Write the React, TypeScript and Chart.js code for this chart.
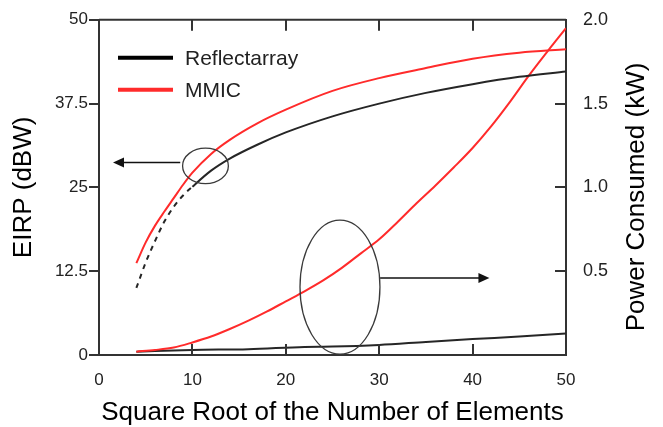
import React, { useEffect, useRef } from "react";
import { Chart, registerables } from "chart.js";

Chart.register(...registerables);

// ---- data ----
const X_EIRP = [4, 5, 6, 7, 8, 9, 10, 12, 14, 17, 20, 25, 30, 35, 40, 45, 50];
const MMIC_EIRP = [13.7, 16.8, 19.3, 21.4, 23.4, 25.4, 27.2, 30.0, 32.1, 34.6, 36.6, 39.4, 41.3, 42.8, 44.2, 45.1, 45.6];
const REFLECT_EIRP = [10.0, 13.8, 17.0, 19.9, 22.1, 23.8, 25.1, 27.5, 29.3, 31.4, 33.2, 35.6, 37.5, 39.1, 40.4, 41.5, 42.3];

const X_MMIC_POWER = [4, 6, 8, 10, 12, 14, 16, 18, 20, 22, 24, 26, 28, 30, 32, 34, 36, 38, 40, 42, 44, 46, 48, 50];
const MMIC_POWER = [0.02, 0.03, 0.045, 0.075, 0.11, 0.155, 0.205, 0.26, 0.32, 0.38, 0.445, 0.52, 0.605, 0.69, 0.795, 0.905, 1.01, 1.12, 1.235, 1.365, 1.51, 1.665, 1.81, 1.95];

const X_REFLECT_POWER = [4, 10, 16, 22, 25, 30, 35, 40, 45, 50];
const REFLECT_POWER = [0.02, 0.03, 0.035, 0.048, 0.05, 0.06, 0.078, 0.095, 0.11, 0.128];

const X_TICKS = [0, 10, 20, 30, 40, 50];
const Y_TICKS = [0, 12.5, 25, 37.5, 50];
const Y2_TICKS = [0.5, 1.0, 1.5, 2.0];

const SERIES_NAMES = ["Reflectarray", "MMIC"];
const DASHED_UNTIL_X = 10; // reflectarray EIRP drawn dashed up to this x

// annotation marks in data units
const ELLIPSE_EIRP = [11.4, 28.2, 2.45, 2.65]; // cx, cy (dBW), rx, ry
const ARROW_EIRP = [8.7, 1.5, 28.7]; // from x, to x, at y (dBW)
const ELLIPSE_POWER = [25.8, 0.405, 4.28, 0.4]; // cx, cy (kW), rx, ry
const ARROW_POWER = [30.1, 41.8, 0.46]; // from x, to x, at y (kW)

const BLACK = "#262626";
const RED = "#ff2b2b";
const AXIS = "#333333";
const FONT = "'Liberation Sans', Arial, sans-serif";

const toXY = (xs: number[], ys: number[]) => xs.map((x, i) => ({ x, y: ys[i] }));

const overlayPlugin = {
  id: "overlay",
  afterDraw(chart: any) {
    const { ctx, chartArea, scales } = chart;
    const x = scales.x;
    const y = scales.y;
    const y2 = scales.y2;
    ctx.save();
    // top border
    ctx.strokeStyle = AXIS;
    ctx.lineWidth = 2;
    ctx.beginPath();
    ctx.moveTo(chartArea.left, chartArea.top);
    ctx.lineTo(chartArea.right, chartArea.top);
    ctx.stroke();
    // inward ticks top / bottom
    ctx.beginPath();
    X_TICKS.filter((v) => v > 0 && v < 50).forEach((v) => {
      const px = Math.round(x.getPixelForValue(v));
      ctx.moveTo(px, chartArea.bottom);
      ctx.lineTo(px, chartArea.bottom - 11);
      ctx.moveTo(px, chartArea.top);
      ctx.lineTo(px, chartArea.top + 11);
    });
    // inward ticks right
    Y2_TICKS.filter((v) => v < 2).forEach((v) => {
      const py = Math.round(y2.getPixelForValue(v));
      ctx.moveTo(chartArea.right, py);
      ctx.lineTo(chartArea.right - 11, py);
    });
    ctx.stroke();

    // ellipses
    const drawEllipse = (e: number[], sc: any) => {
      const cx = x.getPixelForValue(e[0]);
      const cy = sc.getPixelForValue(e[1]);
      const rx = x.getPixelForValue(e[0] + e[2]) - cx;
      const ry = cy - sc.getPixelForValue(e[1] + e[3]);
      ctx.beginPath();
      ctx.ellipse(cx, cy, rx, ry, 0, 0, Math.PI * 2);
      ctx.strokeStyle = "#3a3a3a";
      ctx.lineWidth = 1.3;
      ctx.stroke();
    };
    drawEllipse(ELLIPSE_EIRP, y);
    drawEllipse(ELLIPSE_POWER, y2);

    const drawArrow = (a: number[], sc: any) => {
      const x0 = x.getPixelForValue(a[0]);
      const x1 = x.getPixelForValue(a[1]);
      const py = sc.getPixelForValue(a[2]);
      const dir = Math.sign(x1 - x0);
      ctx.strokeStyle = "#111";
      ctx.fillStyle = "#111";
      ctx.lineWidth = 1.5;
      ctx.beginPath();
      ctx.moveTo(x0, py);
      ctx.lineTo(x1 - dir * 8, py);
      ctx.stroke();
      ctx.beginPath();
      ctx.moveTo(x1, py);
      ctx.lineTo(x1 - dir * 11, py - 5);
      ctx.lineTo(x1 - dir * 11, py + 5);
      ctx.closePath();
      ctx.fill();
    };
    drawArrow(ARROW_EIRP, y);
    drawArrow(ARROW_POWER, y2);

    // legend
    ctx.font = `21px ${FONT}`;
    ctx.textBaseline = "middle";
    ctx.textAlign = "left";
    SERIES_NAMES.forEach((name, i) => {
      const ly = chartArea.top + 38 + i * 32;
      ctx.strokeStyle = i === 0 ? "#000" : RED;
      ctx.lineWidth = 4;
      ctx.beginPath();
      ctx.moveTo(chartArea.left + 19, ly);
      ctx.lineTo(chartArea.left + 74, ly);
      ctx.stroke();
      ctx.fillStyle = "#222";
      ctx.fillText(name, chartArea.left + 86, ly + 1);
    });

    // right axis title (reads bottom-to-top)
    ctx.translate(637, 197);
    ctx.rotate(-Math.PI / 2);
    ctx.font = `26px ${FONT}`;
    ctx.textAlign = "center";
    ctx.fillStyle = "#000";
    ctx.fillText("Power Consumed (kW)", 0, 0);
    ctx.restore();
  },
};

export default function App() {
  const ref = useRef<HTMLCanvasElement | null>(null);

  useEffect(() => {
    document.body.style.margin = "0";
    if (!ref.current) return;
    const chart = new Chart(ref.current, {
      type: "line",
      data: {
        datasets: [
          {
            label: "Reflectarray EIRP",
            data: toXY(X_EIRP, REFLECT_EIRP),
            borderColor: BLACK,
            borderWidth: 2,
            yAxisID: "y",
            segment: {
              borderDash: (c: any) => (c.p1.parsed.x <= DASHED_UNTIL_X ? [5, 5] : undefined),
            },
          },
          {
            label: "MMIC EIRP",
            data: toXY(X_EIRP, MMIC_EIRP),
            borderColor: RED,
            borderWidth: 2,
            yAxisID: "y",
          },
          {
            label: "MMIC Power",
            data: toXY(X_MMIC_POWER, MMIC_POWER),
            borderColor: RED,
            borderWidth: 2,
            yAxisID: "y2",
          },
          {
            label: "Reflectarray Power",
            data: toXY(X_REFLECT_POWER, REFLECT_POWER),
            borderColor: BLACK,
            borderWidth: 2,
            yAxisID: "y2",
          },
        ],
      },
      options: {
        responsive: false,
        animation: false,
        layout: { padding: { top: 15, left: 0, right: 0, bottom: 0 } },
        elements: {
          point: { radius: 0 },
          line: { cubicInterpolationMode: "monotone", fill: false },
        },
        plugins: { legend: { display: false }, tooltip: { enabled: false } },
        scales: {
          x: {
            type: "linear",
            position: "bottom",
            min: 0,
            max: 50,
            afterBuildTicks: (s: any) => {
              s.ticks = X_TICKS.map((v) => ({ value: v }));
            },
            afterFit: (s: any) => {
              s.height = 72;
            },
            grid: { display: false },
            border: { display: true, color: AXIS, width: 2 },
            ticks: {
              color: "#222",
              padding: 7,
              maxRotation: 0,
              font: { family: FONT, size: 17 },
            },
            title: {
              display: true,
              text: "Square Root of the Number of Elements",
              color: "#000",
              font: { family: FONT, size: 26, lineHeight: 1 },
              padding: { top: 0, bottom: 1 },
            },
          },
          y: {
            type: "linear",
            position: "left",
            min: 0,
            max: 50,
            afterBuildTicks: (s: any) => {
              s.ticks = Y_TICKS.map((v) => ({ value: v }));
            },
            afterFit: (s: any) => {
              s.width = 99;
            },
            grid: {
              display: true,
              drawOnChartArea: false,
              drawTicks: true,
              tickLength: 10,
              color: AXIS,
              lineWidth: 2,
            },
            border: { display: true, color: AXIS, width: 2 },
            ticks: {
              color: "#222",
              padding: 1,
              font: { family: FONT, size: 17 },
              callback: (v: any) => String(v),
            },
            title: {
              display: true,
              text: "EIRP (dBW)",
              color: "#000",
              font: { family: FONT, size: 26, lineHeight: 1 },
              padding: { top: 11, bottom: 0 },
            },
          },
          y2: {
            type: "linear",
            position: "right",
            min: 0,
            max: 2,
            afterBuildTicks: (s: any) => {
              s.ticks = Y2_TICKS.map((v) => ({ value: v }));
            },
            afterFit: (s: any) => {
              s.width = 97;
            },
            grid: { display: false },
            border: { display: true, color: AXIS, width: 2 },
            ticks: {
              color: "#222",
              padding: 9,
              font: { family: FONT, size: 18 },
              callback: (v: any) => Number(v).toFixed(1),
            },
          },
        },
      },
      plugins: [overlayPlugin],
    } as any);
    return () => chart.destroy();
  }, []);

  return (
    <div style={{ width: 663, height: 427, background: "#fff" }}>
      <canvas ref={ref} width={663} height={427} />
    </div>
  );
}
